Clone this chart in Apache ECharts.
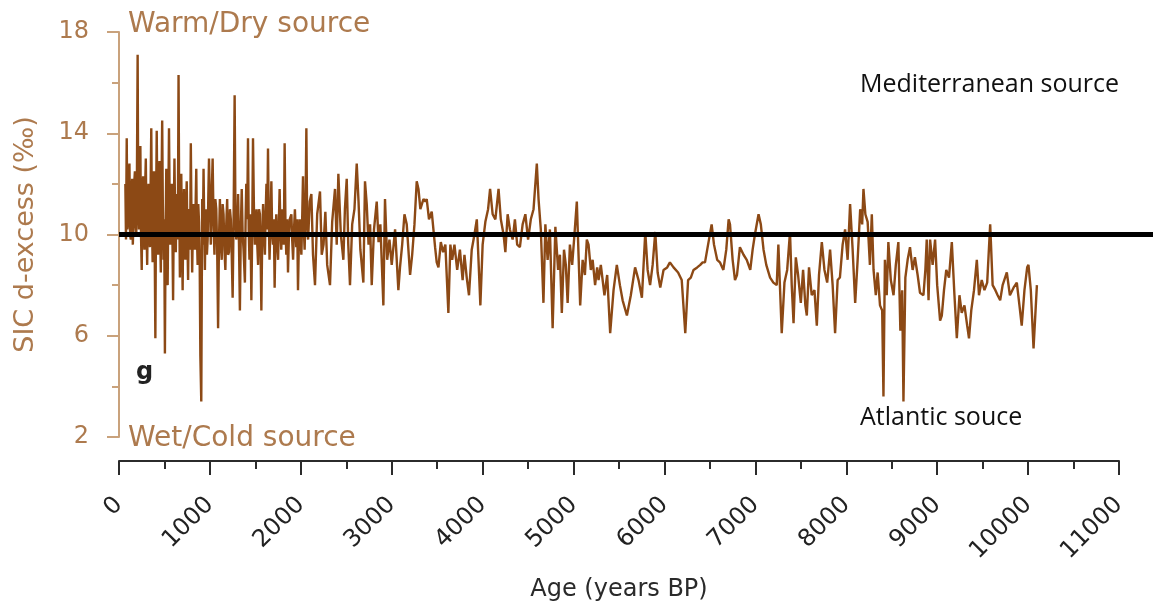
<!DOCTYPE html>
<html>
<head>
<meta charset="utf-8">
<script src="https://cdn.jsdelivr.net/npm/echarts@6/dist/echarts.min.js"></script>
<style>
  html, body { margin: 0; background: #fff; }
  #chart { width: 1153px; height: 607px; }
</style>
</head>
<body>
<div id="chart"></div>
<script>
// age (years BP) of each sample
const ageBP = [
  70, 77, 85, 92, 100, 107, 115, 122, 130, 137,
  145, 152, 160, 167, 175, 182, 190, 197, 205, 212,
  220, 227, 235, 242, 250, 257, 265, 272, 280, 287,
  295, 302, 310, 317, 325, 332, 340, 347, 355, 362,
  370, 377, 385, 392, 400, 407, 415, 422, 430, 437,
  445, 452, 460, 467, 475, 482, 490, 497, 505, 512,
  520, 527, 535, 542, 550, 557, 565, 572, 580, 587,
  595, 602, 610, 617, 625, 632, 640, 647, 655, 662,
  670, 677, 685, 692, 700, 707, 715, 722, 730, 737,
  745, 752, 760, 767, 775, 782, 790, 797, 805, 812,
  820, 827, 835, 842, 850, 857, 865, 872, 880, 887,
  895, 905, 915, 922, 930, 937, 945, 952, 960, 967,
  975, 982, 990, 1010, 1020, 1030, 1040, 1050, 1060, 1070,
  1080, 1090, 1100, 1110, 1120, 1130, 1140, 1150, 1160, 1170,
  1180, 1190, 1200, 1210, 1220, 1230, 1240, 1250, 1261, 1272,
  1281, 1290, 1300, 1310, 1320, 1330, 1340, 1350, 1360, 1370,
  1385, 1392, 1400, 1410, 1419, 1427, 1435, 1445, 1456, 1465,
  1474, 1485, 1495, 1503, 1512, 1521, 1530, 1540, 1550, 1558,
  1566, 1575, 1585, 1595, 1605, 1613, 1622, 1630, 1639, 1647,
  1656, 1666, 1676, 1685, 1694, 1703, 1712, 1721, 1730, 1740,
  1750, 1758, 1767, 1776, 1785, 1795, 1805, 1813, 1822, 1831,
  1840, 1850, 1859, 1868, 1878, 1896, 1905, 1915, 1925, 1935,
  1950, 1960, 1969, 1978, 1988, 1997, 2006, 2015, 2024, 2033,
  2042, 2051, 2061, 2070, 2080, 2098, 2116, 2134, 2156, 2180,
  2211, 2230, 2250, 2270,
  2290, 2321, 2345, 2376, 2395, 2413, 2440, 2468, 2485, 2505,
  2522, 2541, 2565, 2590, 2615, 2635, 2655, 2688, 2706, 2725,
  2745, 2762, 2780, 2805, 2835, 2855, 2875, 2908, 2926, 2950,
  2975, 3000, 3037, 3073, 3091, 3115, 3140, 3165, 3202, 3225,
  3250, 3275, 3294, 3315, 3349, 3370, 3385, 3410, 3440, 3458,
  3477, 3495, 3514, 3540, 3565, 3590, 3623, 3645, 3665, 3690,
  3720, 3750, 3780, 3800, 3825, 3850, 3880, 3910, 3936, 3975,
  4000, 4030, 4060, 4082, 4110, 4140, 4175, 4200, 4230, 4250,
  4275, 4300, 4330, 4355, 4380, 4410, 4440, 4470, 4500, 4530,
  4560, 4596, 4615, 4640, 4669, 4690, 4715, 4740, 4770, 4800,
  4830, 4850, 4871, 4895, 4915, 4935, 4960, 4985, 5010, 5036,
  5073, 5100, 5125, 5146, 5165, 5190, 5210, 5237, 5260, 5275,
  5300, 5340, 5370, 5403, 5440, 5476, 5510, 5540, 5587, 5630,
  5677, 5715, 5752, 5789, 5815, 5842, 5870, 5899, 5925, 5954,
  5990, 6030, 6060, 6100, 6150, 6190, 6229, 6260, 6290, 6320,
  6360, 6394, 6420, 6446, 6480, 6519, 6545, 6580, 6610, 6648,
  6680, 6706, 6721, 6750, 6776, 6798, 6830, 6870, 6905, 6944,
  6970, 6995, 7035, 7060, 7090, 7120, 7162, 7198, 7235, 7253,
  7270, 7290, 7320, 7350, 7381, 7400, 7420, 7445, 7470, 7500,
  7525, 7550, 7566, 7590, 7620, 7650, 7676, 7700, 7731, 7760,
  7790, 7822, 7850, 7877, 7905, 7930, 7960, 7987, 8015, 8042,
  8070, 8098, 8125, 8153, 8175, 8189, 8210, 8235, 8260, 8281,
  8300, 8325, 8345, 8371, 8395, 8409, 8425, 8445, 8463, 8490,
  8520, 8545, 8573, 8595, 8615, 8629, 8650, 8675, 8701, 8730,
  8755, 8785, 8811, 8849, 8870, 8885, 8905, 8922, 8950, 8977,
  9000, 9032, 9051, 9075, 9100, 9130, 9161, 9190, 9216, 9245,
  9270, 9300, 9330, 9350, 9375, 9405, 9436, 9460, 9490, 9520,
  9550, 9583, 9610, 9640, 9665, 9693, 9720, 9766, 9800, 9840,
  9876, 9905, 9930, 9960, 9990, 10004, 10030, 10060, 10097
];

// SIC d-excess (permil), same order as ageBP
const dExcess = [
  12.0, 9.8, 13.8, 10.2, 10.5, 12.4, 12.8, 10.0, 9.8, 11.8,
  12.2, 9.6, 10.6, 12.0, 12.5, 10.4, 9.9, 12.2, 17.1, 11.0,
  10.2, 11.8, 13.5, 10.0, 8.6, 11.5, 12.3, 10.0, 9.4, 11.8,
  13.0, 10.4, 8.8, 11.0, 12.0, 10.2, 9.5, 11.6, 14.2, 10.6,
  8.9, 11.0, 12.5, 9.8, 5.9, 10.8, 14.1, 11.0, 9.2, 11.4,
  12.9, 10.2, 8.5, 11.6, 14.5, 11.2, 9.0, 10.6, 5.3, 9.8,
  12.6, 10.4, 8.0, 11.0, 14.2, 11.4, 9.6, 11.2, 12.0, 10.2,
  7.4, 10.6, 13.0, 10.8, 9.3, 11.6, 11.5, 9.8, 16.3, 11.4,
  8.3, 10.4, 12.4, 10.0, 7.8, 10.8, 11.8, 9.6, 9.0, 11.0,
  12.1, 10.0, 8.2, 10.6, 11.0, 9.4, 13.6, 10.8, 8.5, 10.2,
  11.2, 9.6, 9.4, 11.0, 12.6, 10.0, 8.8, 11.2, 10.5, 9.2,
  5.2, 3.4, 11.4, 9.6, 12.6, 10.6, 8.6, 10.8, 11.0, 9.2,
  9.8, 11.4, 13.0, 9.6, 11.6, 13.0, 10.4, 9.2, 11.4, 11.0,
  9.4, 6.3, 9.8, 11.4, 9.6, 9.0, 11.2, 10.8, 9.4, 8.6,
  10.4, 11.4, 9.2, 9.3, 11.0, 10.6, 9.2, 7.5, 10.8, 15.5,
  10.6, 9.8, 10.2, 11.6, 9.6, 7.0, 10.2, 11.8, 10.0, 9.4,
  8.1, 10.4, 12.0, 10.6, 13.8, 10.2, 9.0, 10.8, 7.4, 10.0,
  13.8, 10.8, 9.6, 10.2, 11.0, 9.6, 8.8, 11.0, 10.8, 9.2,
  7.0, 9.8, 11.2, 10.0, 9.2, 10.8, 12.0, 10.2, 13.4, 10.6,
  9.0, 10.4, 12.1, 10.0, 9.6, 10.6, 7.9, 10.0, 10.8, 9.6,
  9.0, 10.4, 11.8, 10.2, 9.4, 11.0, 10.5, 9.6, 13.6, 10.4,
  9.2, 10.6, 8.5, 9.8, 10.6, 10.8, 9.8, 9.0, 10.2, 11.0,
  9.5, 10.6, 7.8, 9.6, 10.6, 9.8, 9.2, 10.6, 12.3, 10.2,
  9.4, 10.8, 14.2, 10.4, 9.8, 11.3, 11.6, 9.2, 8.0, 10.8,
  11.7, 9.2, 9.6, 10.9,
  8.8, 8.0, 10.5, 11.8, 9.6, 12.4, 10.0, 9.0, 11.0, 12.2,
  9.6, 8.0, 10.4, 11.0, 12.8, 11.3, 9.4, 8.1, 12.1, 11.2,
  9.6, 10.4, 8.0, 10.2, 11.3, 9.7, 10.4, 7.2, 11.4, 9.0,
  9.8, 8.8, 10.2, 7.8, 8.7, 9.6, 10.8, 10.4, 8.4, 9.2,
  10.4, 12.1, 11.8, 11.0, 11.4, 11.3, 11.4, 10.6, 10.9, 10.9,
  9.5, 8.9, 8.7, 9.7, 9.3, 9.6, 6.9, 9.6, 9.0, 9.6,
  8.6, 9.4, 8.2, 9.2, 8.3, 7.6, 9.4, 10.0, 10.6, 7.2,
  9.6, 10.5, 11.0, 11.8, 10.8, 10.6, 11.8, 10.6, 10.0, 9.3,
  10.8, 10.2, 9.8, 10.6, 9.6, 9.5, 10.4, 10.8, 9.8, 10.6,
  11.0, 12.8, 11.4, 10.2, 7.3, 10.4, 9.0, 10.2, 6.3, 10.3,
  8.6, 9.2, 6.9, 9.4, 8.8, 7.3, 9.6, 8.8, 10.0, 11.3,
  7.2, 9.0, 8.4, 9.8, 9.6, 8.6, 9.0, 8.0, 8.7, 8.2,
  8.8, 7.6, 8.4, 6.1, 7.8, 8.8, 8.0, 7.4, 6.8, 7.6,
  8.7, 8.2, 7.5, 10.1, 8.6, 8.0, 8.8, 10.1, 8.5, 7.9,
  8.6, 8.7, 8.9, 8.7, 8.5, 8.2, 6.1, 8.2, 8.3, 8.6,
  8.7, 8.8, 8.9, 8.9, 9.6, 10.4, 9.6, 9.0, 8.9, 8.6,
  9.4, 10.6, 10.4, 9.0, 8.2, 8.4, 9.5, 9.2, 9.0, 8.6,
  9.4, 10.0, 10.8, 10.4, 9.4, 8.8, 8.3, 8.1, 8.0, 9.6,
  8.0, 6.1, 8.1, 8.6, 10.1, 8.0, 6.5, 9.1, 8.4, 7.3,
  8.6, 7.2, 6.8, 8.7, 7.6, 7.8, 6.4, 8.4, 9.7, 8.6,
  8.1, 9.4, 8.0, 6.1, 8.2, 8.3, 9.6, 10.2, 9.0, 11.2,
  9.4, 7.3, 9.0, 11.0, 10.4, 11.8, 10.8, 10.5, 8.8, 10.8,
  8.6, 7.6, 8.5, 7.2, 7.0, 3.6, 9.0, 7.6, 9.7, 8.2,
  7.6, 8.8, 9.7, 6.2, 7.8, 3.4, 8.3, 9.0, 9.5, 8.6,
  9.1, 8.4, 7.7, 7.6, 8.6, 9.8, 7.4, 9.8, 8.8, 9.8,
  8.0, 6.6, 6.8, 7.8, 8.6, 8.3, 9.7, 7.6, 5.9, 7.6,
  6.9, 7.2, 6.4, 5.9, 7.0, 7.8, 9.0, 7.6, 8.2, 7.8,
  8.1, 10.4, 8.0, 7.8, 7.6, 7.4, 8.0, 8.5, 7.6, 7.9,
  8.1, 7.2, 6.4, 7.8, 8.7, 8.8, 7.8, 5.5, 8.0
];

// axis ranges / ticks
const ageTicks = [0, 11000, 1000];
const dTicks = [2, 18, 4];
const refLevel = 10;

const brownLine = '#8c4915';
const brownAxis = '#c9a27c';
const brownText = '#ad7a4e';
const font = '"DejaVu Sans", sans-serif';

const points = ageBP.map((a, i) => [a, dExcess[i]]);

const chart = echarts.init(document.getElementById('chart'));

const option = {
  animation: false,
  backgroundColor: '#fff',
  grid: [
    // data grid runs to the right edge so the 10 permil line reaches it
    { left: 119, right: 0, top: 32, bottom: 170 },
    // axis grid ends at 11000
    { left: 119, right: 34, top: 32, bottom: 170 }
  ],
  xAxis: [
    {
      gridIndex: 0,
      type: 'value',
      min: ageTicks[0],
      max: ageTicks[1] + 374,
      show: false
    },
    {
      gridIndex: 1,
      type: 'value',
      min: ageTicks[0],
      max: ageTicks[1],
      interval: ageTicks[2],
      offset: 25,
      name: 'Age (years BP)',
      nameLocation: 'middle',
      nameGap: 117,
      nameTextStyle: { color: '#2a2a2a', fontSize: 24, fontFamily: font },
      axisLine: { show: true, lineStyle: { color: '#2b2b2b', width: 2 } },
      axisTick: { show: true, length: 14, lineStyle: { color: '#2b2b2b', width: 2 } },
      minorTick: { show: true, splitNumber: 2, length: 8, lineStyle: { color: '#2b2b2b', width: 2 } },
      splitLine: { show: false },
      axisLabel: {
        rotate: 45,
        margin: 40,
        color: '#222',
        fontSize: 24,
        fontFamily: font,
        showMinLabel: true,
        showMaxLabel: true,
        formatter: (v) => String(v)
      }
    }
  ],
  yAxis: [
    {
      gridIndex: 0,
      type: 'value',
      min: dTicks[0],
      max: dTicks[1],
      interval: dTicks[2],
      name: 'SIC d-excess (‰)',
      nameLocation: 'middle',
      nameGap: 80,
      nameTextStyle: { color: brownText, fontSize: 27, fontFamily: font },
      axisLine: { show: true, lineStyle: { color: brownAxis, width: 2 } },
      axisTick: { show: true, length: 12, lineStyle: { color: brownAxis, width: 2 } },
      minorTick: { show: true, splitNumber: 2, length: 7, lineStyle: { color: brownAxis, width: 2 } },
      splitLine: { show: false },
      axisLabel: { color: brownText, fontSize: 24, fontFamily: font, margin: 30 }
    },
    {
      gridIndex: 1,
      type: 'value',
      min: dTicks[0],
      max: dTicks[1],
      show: false
    }
  ],
  graphic: [
    { type: 'text', left: 128, top: 11, style: { text: 'Warm/Dry source', fill: brownText, fontSize: 28, fontFamily: font } },
    { type: 'text', left: 128, top: 425, style: { text: 'Wet/Cold source', fill: brownText, fontSize: 28, fontFamily: font } },
    { type: 'text', left: 136, top: 361, style: { text: 'g', fill: '#222', fontSize: 24, fontWeight: 'bold', fontFamily: font } },
    { type: 'text', left: 860, top: 72, style: { text: 'Mediterranean source', fill: '#111', fontSize: 25, fontFamily: '"Open Sans", sans-serif' } },
    { type: 'text', left: 860, top: 405, style: { text: 'Atlantic souce', fill: '#111', fontSize: 25, fontFamily: '"Open Sans", sans-serif' } }
  ],
  series: [
    {
      name: 'SIC d-excess',
      type: 'line',
      xAxisIndex: 0,
      yAxisIndex: 0,
      data: points,
      showSymbol: false,
      symbol: 'none',
      lineStyle: { color: brownLine, width: 2.4 },
      markLine: {
        silent: true,
        symbol: 'none',
        label: { show: false },
        lineStyle: { color: '#000', width: 5, type: 'solid' },
        data: [{ yAxis: refLevel }]
      }
    }
  ]
};

chart.setOption(option);
</script>
</body>
</html>
